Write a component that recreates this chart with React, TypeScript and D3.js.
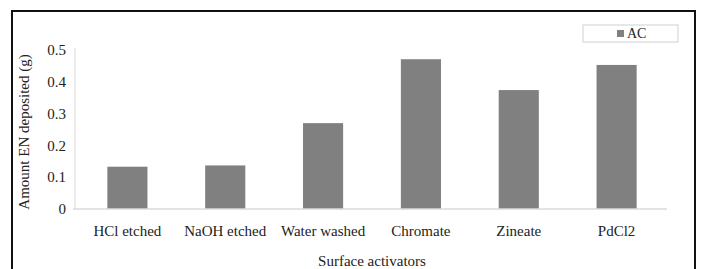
import { useRef, useEffect } from "react";
import * as d3 from "d3";

const categories = ["HCl etched", "NaOH etched", "Water washed", "Chromate", "Zineate", "PdCl2"];
const acValues = [0.133, 0.137, 0.27, 0.471, 0.374, 0.453];
const yTicks = [0, 0.1, 0.2, 0.3, 0.4, 0.5];
const seriesName = "AC";

const App = () => {
  const ref = useRef<SVGSVGElement | null>(null);

  useEffect(() => {
    const svg = d3.select(ref.current);
    svg.selectAll("*").remove();

    const font = "'Liberation Serif', 'Times New Roman', serif";

    // frame
    svg
      .append("path")
      .attr("d", "M 12,280 V 11 H 695 V 280")
      .attr("fill", "none")
      .attr("stroke", "#111")
      .attr("stroke-width", 2);

    const x = d3.scaleBand().domain(categories).range([78, 666]).paddingInner(0.59).paddingOuter(0.3);
    const y = d3.scaleLinear().domain([0, 0.5]).range([209, 50]);

    // y axis line
    svg
      .append("line")
      .attr("x1", 75)
      .attr("x2", 75)
      .attr("y1", y(0.5) - 2)
      .attr("y2", y(0))
      .attr("stroke", "#e4e4e4")
      .attr("stroke-width", 1.5);

    // bars
    svg
      .selectAll("rect.bar")
      .data(acValues)
      .join("rect")
      .attr("class", "bar")
      .attr("x", (_d, i) => x(categories[i])!)
      .attr("y", (d) => y(d))
      .attr("width", x.bandwidth())
      .attr("height", (d) => y(0) - y(d))
      .attr("fill", "#808080");

    // x axis line
    svg
      .append("line")
      .attr("x1", 73)
      .attr("x2", 667)
      .attr("y1", y(0))
      .attr("y2", y(0))
      .attr("stroke", "#dadada")
      .attr("stroke-width", 1.5);

    // y tick labels
    svg
      .selectAll("text.ytick")
      .data(yTicks)
      .join("text")
      .attr("class", "ytick")
      .attr("x", 66)
      .attr("y", (d) => y(d))
      .attr("dy", "0.35em")
      .attr("text-anchor", "end")
      .attr("font-family", font)
      .attr("font-size", 15)
      .attr("fill", "#222")
      .text((d) => (d === 0 ? "0" : d3.format(".1f")(d)));

    // x tick labels
    svg
      .selectAll("text.xtick")
      .data(categories)
      .join("text")
      .attr("class", "xtick")
      .attr("x", (d) => x(d)! + x.bandwidth() / 2)
      .attr("y", 236)
      .attr("text-anchor", "middle")
      .attr("font-family", font)
      .attr("font-size", 15)
      .attr("fill", "#222")
      .text((d) => d);

    // axis titles
    svg
      .append("text")
      .attr("x", (78 + 666) / 2)
      .attr("y", 266)
      .attr("text-anchor", "middle")
      .attr("font-family", font)
      .attr("font-size", 15)
      .attr("fill", "#222")
      .text("Surface activators");

    svg
      .append("text")
      .attr("transform", "translate(29,132) rotate(-90)")
      .attr("text-anchor", "middle")
      .attr("font-family", font)
      .attr("font-size", 15)
      .attr("fill", "#222")
      .text("Amount EN deposited (g)");

    // legend
    const lg = svg.append("g");
    lg.append("rect")
      .attr("x", 583)
      .attr("y", 25)
      .attr("width", 95)
      .attr("height", 17)
      .attr("fill", "#fff")
      .attr("stroke", "#d0d0d0");
    lg.append("rect")
      .attr("x", 617)
      .attr("y", 30)
      .attr("width", 7)
      .attr("height", 7)
      .attr("fill", "#808080");
    lg.append("text")
      .attr("x", 627)
      .attr("y", 33.5)
      .attr("dy", "0.35em")
      .attr("font-family", font)
      .attr("font-size", 14)
      .attr("fill", "#222")
      .text(seriesName);
  }, []);

  return (
    <svg
      ref={ref}
      width={701}
      height={269}
      style={{ position: "absolute", left: 0, top: 0, background: "#fff" }}
    />
  );
};

export default App;
